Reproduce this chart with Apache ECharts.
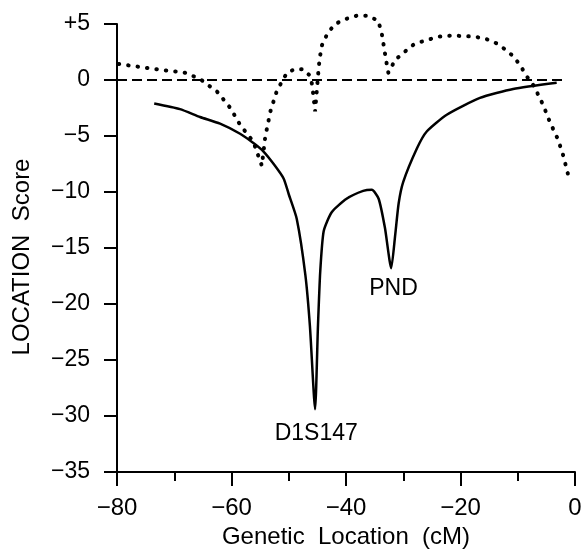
<!DOCTYPE html>
<html>
<head>
<meta charset="utf-8">
<script src="https://cdn.jsdelivr.net/npm/echarts@6/dist/echarts.min.js"></script>
<style>
  html, body { margin: 0; padding: 0; background: #fff; }
  #chart { width: 585px; height: 554px; }
</style>
</head>
<body>
<div id="chart"></div>
<script>
// location score curve (solid)
const scoreCurve = [
    [-73.5, -2.1], [-69, -2.6], [-65.5, -3.3], [-62, -3.9], [-58.5, -4.8],
    [-56, -5.7], [-54.4, -6.4], [-52.5, -7.6], [-50.9, -8.8], [-50, -10.2],
    [-48.6, -12.4], [-47.1, -17.4], [-46.3, -22], [-45.4, -29.4], [-44.9, -22],
    [-44.5, -17.1], [-43.9, -13.5], [-42.5, -11.8], [-39.9, -10.6], [-37, -9.9],
    [-35.5, -9.8], [-34.3, -10.6], [-33.2, -13.2], [-32.1, -16.8], [-31.4, -13.8],
    [-30.8, -11], [-30, -9.1], [-27.6, -6.1], [-25.9, -4.6], [-22.4, -3.1],
    [-16.6, -1.6], [-10.8, -0.8], [-3.2, -0.25]
];

// dotted curve
const dottedCurve = [
    [-79.7, 1.43], [-73, 0.95], [-68.1, 0.65], [-65.5, 0.09], [-62.5, -1.05],
    [-60.2, -2.5], [-58.5, -4], [-56.2, -5.5], [-54.7, -7.65], [-54.1, -5.06],
    [-53.2, -2.8], [-52.1, -1], [-51.2, -0.15], [-50.3, 0.65], [-48.9, 0.98],
    [-47.4, 0.95], [-46.3, 0.38], [-45.9, -0.45], [-45.4, -2.8], [-44.8, 0.9],
    [-44.6, 1.93], [-44.2, 3.1], [-43.2, 4.2], [-41.9, 5.0], [-40, 5.45],
    [-38.1, 5.74], [-36.2, 5.74], [-34.4, 5.3], [-33.8, 4.3], [-33.5, 3.36],
    [-33.2, 2.4], [-32.9, 1.48], [-32.6, 0.65], [-31.4, 1.8], [-29.8, 2.5],
    [-28.1, 3.2], [-25.9, 3.57], [-23.7, 3.87], [-21.7, 3.96], [-19.6, 3.93],
    [-17.5, 3.87], [-15.5, 3.66], [-13.7, 3.27], [-12.1, 2.7], [-10.7, 2.08],
    [-9.5, 1.25], [-8.4, 0.3], [-7.3, -0.45], [-6.4, -1.34], [-5.5, -2.3],
    [-4.7, -3.37], [-3.8, -4.4], [-3.0, -5.27], [-2.4, -6.2], [-1.9, -7.0],
    [-1.5, -7.9], [-0.9, -9.0]
];

// zero reference line
const zeroLine = [[-80, 0], [-2, 0]];

// marker labels
const markerNames = ['D1S147', 'PND'];
const markerPos = [[-45.2, -31.6], [-31.7, -18.6]];

const FONT = 'Liberation Sans';

function tickText(v) {
    if (v > 0) return '+' + v;
    if (v < 0) return '\u2212' + Math.abs(v);
    return '0';
}

let chart = echarts.init(document.getElementById('chart'));
let option = {
    backgroundColor: '#fff',
    animation: false,
    grid: { left: 117, right: 10, top: 24, bottom: 82, containLabel: false },
    xAxis: {
        type: 'value',
        min: -80,
        max: 0,
        interval: 20,
        name: 'Genetic  Location  (cM)',
        nameLocation: 'middle',
        nameGap: 53,
        nameTextStyle: { color: '#000', fontSize: 24, fontFamily: FONT },
        axisLine: { onZero: false, lineStyle: { color: '#000', width: 2 } },
        axisTick: { length: 14, lineStyle: { color: '#000', width: 2 } },
        minorTick: { show: true, splitNumber: 2, length: 9, lineStyle: { color: '#000', width: 2 } },
        splitLine: { show: false },
        axisLabel: { color: '#000', fontSize: 24, fontFamily: FONT, margin: 24, formatter: tickText }
    },
    yAxis: {
        type: 'value',
        min: -35,
        max: 5,
        interval: 5,
        name: 'LOCATION  Score',
        nameLocation: 'middle',
        nameGap: 83,
        nameTextStyle: { color: '#000', fontSize: 24, fontFamily: FONT, padding: [0, 18, 0, 0] },
        axisLine: { show: true, onZero: false, lineStyle: { color: '#000', width: 2 } },
        axisTick: { show: true, length: 13, lineStyle: { color: '#000', width: 2 } },
        splitLine: { show: false },
        axisLabel: { color: '#000', fontSize: 23, fontFamily: FONT, margin: 27, formatter: tickText }
    },
    series: [
        {
            type: 'line',
            data: zeroLine,
            symbol: 'none',
            lineStyle: { color: '#000', width: 2, type: [10, 5] }
        },
        {
            type: 'line',
            data: scoreCurve,
            symbol: 'none',
            smooth: 0.2,
            lineStyle: { color: '#000', width: 2.5 }
        },
        {
            type: 'line',
            data: dottedCurve,
            symbol: 'none',
            clip: false,
            lineStyle: { color: '#000', width: 4, type: [0.5, 9], cap: 'round' }
        },
        {
            type: 'scatter',
            symbolSize: 0,
            itemStyle: { color: '#000', opacity: 1 },
            data: markerPos.map((p, i) => ({ value: p, name: markerNames[i] })),
            label: {
                show: true,
                position: 'inside',
                formatter: '{b}',
                color: '#000',
                opacity: 1,
                textBorderWidth: 0,
                fontSize: 23,
                fontFamily: FONT
            }
        }
    ]
};
chart.setOption(option);
</script>
</body>
</html>
